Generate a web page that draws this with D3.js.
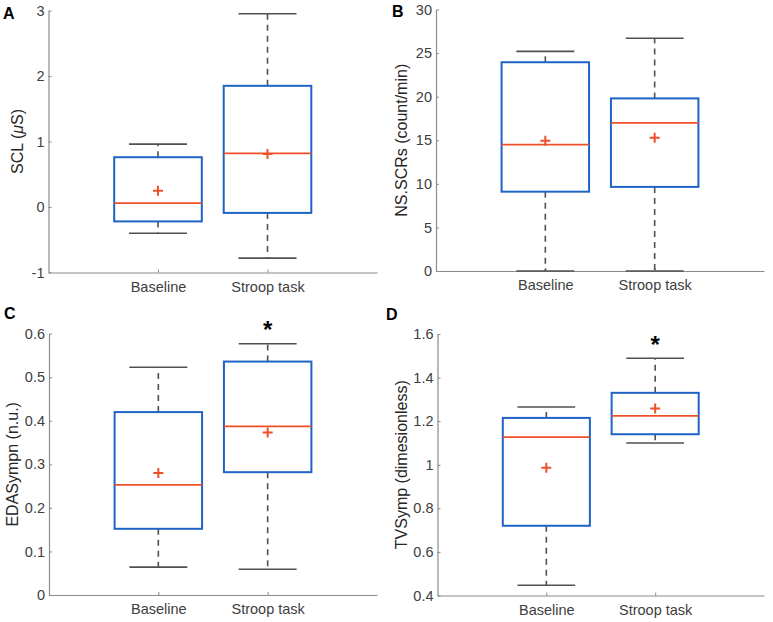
<!DOCTYPE html>
<html><head><meta charset="utf-8">
<script src="https://cdn.jsdelivr.net/npm/d3@7"></script>
<style>
html,body{margin:0;padding:0;background:#fff;}
svg{display:block;font-family:"Liberation Sans",Arial,sans-serif;}
</style></head>
<body>
<svg id="chart" width="773" height="622"></svg>
<script>
// ---------- data ----------
const categories = ["Baseline", "Stroop task"];
// each row: [lower whisker, Q1, median, Q3, upper whisker, mean]
const sclStats   = [[-0.40, -0.22, 0.06, 0.76, 0.96, 0.25], [-0.78, -0.09, 0.82, 1.85, 2.95, 0.81]];
const nsscrStats = [[0, 9.1, 14.5, 23.95, 25.2, 14.95], [0, 9.65, 17.0, 19.8, 26.7, 15.3]];
const edaStats   = [[0.064, 0.152, 0.253, 0.420, 0.523, 0.280], [0.059, 0.282, 0.387, 0.536, 0.577, 0.373]];
const tvStats    = [[0.447, 0.720, 1.127, 1.215, 1.265, 0.986], [1.100, 1.140, 1.224, 1.330, 1.489, 1.258]];
const sclTicks   = [-1, 0, 1, 2, 3];
const nsscrTicks = [0, 5, 10, 15, 20, 25, 30];
const edaTicks   = [0, 0.1, 0.2, 0.3, 0.4, 0.5, 0.6];
const tvTicks    = [0.4, 0.6, 0.8, 1, 1.2, 1.4, 1.6];
// label parts: [text, italic?]
const yLabels    = [[["SCL (", false], ["μ", true], ["S)", false]],
                    [["NS.SCRs (count/min)", false]],
                    [["EDASympn (n.u.)", false]],
                    [["TVSymp (dimesionless)", false]]];
const panelLetters = ["A", "B", "C", "D"];
const significant = [[false, false], [false, false], [false, true], [false, true]];

// ---------- layout ----------
const panels = [
  {letter: panelLetters[0], stats: sclStats,   ticks: sclTicks,   label: yLabels[0], sig: significant[0],
   l: 48.5, r: 377, t: 10.5, b: 272.5, lx: 17, px: 3,   py: 18.5},
  {letter: panelLetters[1], stats: nsscrStats, ticks: nsscrTicks, label: yLabels[1], sig: significant[1],
   l: 436,  r: 764, t: 9.5,  b: 271,   lx: 401, px: 392, py: 16.5},
  {letter: panelLetters[2], stats: edaStats,   ticks: edaTicks,   label: yLabels[2], sig: significant[2],
   l: 49,   r: 377, t: 333.7, b: 595,  lx: 12, px: 4,   py: 318.5},
  {letter: panelLetters[3], stats: tvStats,    ticks: tvTicks,    label: yLabels[3], sig: significant[3],
   l: 437.5,r: 764, t: 334,  b: 595.5, lx: 401, px: 386, py: 320}
];

const svg = d3.select("#chart");
const boxColor = "#1f63c6", medColor = "#ee5028", whiskColor = "#505050", axisColor = "#8a8a8a", textColor = "#404040";
const fmt = d => String(+(+d).toFixed(2));

panels.forEach(p => {
  const x = d3.scaleLinear().domain([0, 3]).range([p.l, p.r]);
  const y = d3.scaleLinear().domain([p.ticks[0], p.ticks[p.ticks.length - 1]]).range([p.b, p.t]);
  const g = svg.append("g");

  // axes
  const yAxis = d3.axisLeft(y).tickValues(p.ticks).tickFormat(fmt).tickSizeInner(-3).tickSizeOuter(0).tickPadding(4);
  const ya = g.append("g").attr("transform", `translate(${p.l},0)`).call(yAxis);
  const xAxis = d3.axisBottom(x).tickValues([1, 2]).tickFormat((d, i) => categories[i]).tickSizeInner(-3).tickSizeOuter(0).tickPadding(9);
  const xa = g.append("g").attr("transform", `translate(0,${p.b})`).call(xAxis);
  [ya, xa].forEach(a => {
    a.select(".domain").attr("stroke", axisColor).attr("stroke-width", 1.2);
    a.selectAll(".tick line").attr("stroke", axisColor);
    a.selectAll(".tick text").attr("fill", textColor).style("font-size", "14.5px").style("font-family", '"Liberation Sans", Arial, sans-serif');
  });

  // y label
  const lab = g.append("text")
    .attr("transform", `translate(${p.lx},${(p.t + p.b) / 2}) rotate(-90)`)
    .attr("text-anchor", "middle").attr("dy", "0.35em")
    .attr("fill", "#262626").style("font-size", "16px");
  p.label.forEach(([txt, it]) => {
    lab.append("tspan").style("font-style", it ? "italic" : "normal").text(txt);
  });

  // panel letter
  g.append("text").attr("x", p.px).attr("y", p.py)
    .attr("fill", "#000").style("font-size", "16px").style("font-weight", "bold").text(p.letter);

  const boxW = x(0.8) - x(0), capW = x(0.53) - x(0);

  p.stats.forEach((s, i) => {
    const cx = x(i + 1);
    const [lo, q1, med, q3, hi, mean] = s;
    // whiskers (dashed)
    g.append("line").attr("x1", cx).attr("x2", cx).attr("y1", y(q3)).attr("y2", y(hi))
      .attr("stroke", whiskColor).attr("stroke-width", 1.6).attr("stroke-dasharray", "6,5");
    g.append("line").attr("x1", cx).attr("x2", cx).attr("y1", y(q1)).attr("y2", y(lo))
      .attr("stroke", whiskColor).attr("stroke-width", 1.6).attr("stroke-dasharray", "6,5");
    // caps
    [lo, hi].forEach(v => {
      g.append("line").attr("x1", cx - capW / 2).attr("x2", cx + capW / 2).attr("y1", y(v)).attr("y2", y(v))
        .attr("stroke", whiskColor).attr("stroke-width", 1.6);
    });
    // box
    g.append("rect").attr("x", cx - boxW / 2).attr("y", y(q3)).attr("width", boxW).attr("height", y(q1) - y(q3))
      .attr("fill", "none").attr("stroke", boxColor).attr("stroke-width", 2);
    // median
    g.append("line").attr("x1", cx - boxW / 2).attr("x2", cx + boxW / 2).attr("y1", y(med)).attr("y2", y(med))
      .attr("stroke", medColor).attr("stroke-width", 1.8);
    // mean marker (+)
    const m = y(mean);
    g.append("path").attr("d", `M${cx - 5},${m}H${cx + 5}M${cx},${m - 5}V${m + 5}`)
      .attr("stroke", medColor).attr("stroke-width", 2).attr("fill", "none");
    // significance
    if (p.sig[i]) {
      g.append("text").attr("x", cx).attr("y", y(hi) - 5.5).attr("text-anchor", "middle")
        .attr("fill", "#000").style("font-size", "24px").style("font-weight", "bold").text("*");
    }
  });
});
</script>
</body></html>
